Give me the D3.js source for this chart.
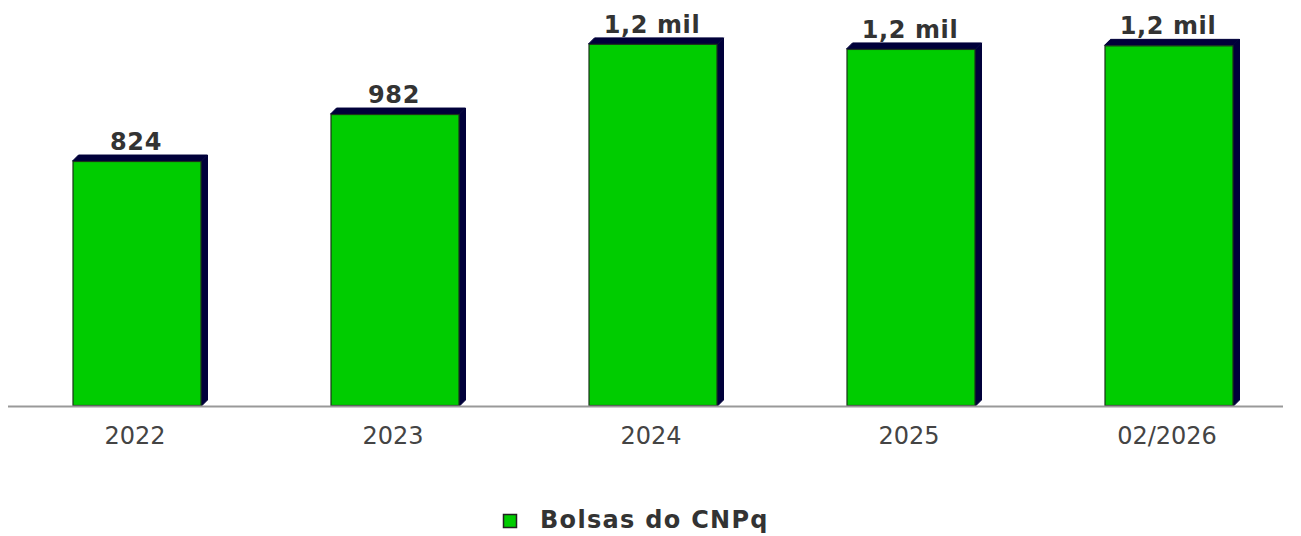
<!DOCTYPE html>
<html><head><meta charset="utf-8">
<script src="https://cdn.jsdelivr.net/npm/d3@7"></script>
<style>body{margin:0;background:#fff;}svg{display:block;}</style>
</head><body>
<svg id="c" width="1301" height="536"></svg>
<script>
const categories = ["2022", "2023", "2024", "2025", "02/2026"];
const values = [824, 982, 1218, 1201, 1213];
const valueLabels = ["824", "982", "1,2 mil", "1,2 mil", "1,2 mil"];
const seriesName = "Bolsas do CNPq";

const svg = d3.select("#c");
const baseY = 406, depth = 6;
const x = d3.scaleBand().domain(categories).range([8, 1298]).paddingInner(0.5).paddingOuter(0.25);
const y = d3.scaleLinear().domain([0, 1300]).range([baseY, 19.5]);

const g = svg.append("g");
const bars = g.selectAll("g.bar").data(categories).join("g").attr("class","bar");
bars.each(function(c, i){
  const s = d3.select(this);
  const x0 = x(c), w = x.bandwidth(), yt = y(values[i]);
  s.append("path")
    .attr("d", `M${x0+w},${yt} L${x0+w+depth},${yt-depth} L${x0+w+depth},${baseY-depth} L${x0+w},${baseY} Z`)
    .attr("fill", "#00003a").attr("stroke","#00003a").attr("stroke-width",1);
  s.append("path")
    .attr("d", `M${x0},${yt} L${x0+depth},${yt-depth} L${x0+w+depth},${yt-depth} L${x0+w},${yt} Z`)
    .attr("fill", "#00003a").attr("stroke","#00003a").attr("stroke-width",1);
  s.append("rect").attr("x", x0+0.5).attr("y", yt+0.5).attr("width", w-1).attr("height", baseY-yt-1)
    .attr("fill", "#00cc00").attr("stroke", "#1a331a").attr("stroke-width", 1.2);
  s.append("text").attr("x", x0 + w/2 - 1).attr("y", yt - depth - 5)
    .attr("text-anchor","middle").attr("font-family","DejaVu Sans").attr("font-weight","bold")
    .attr("font-size", 24).attr("letter-spacing", 0.6).attr("fill","#333").text(valueLabels[i]);
});

const axis = d3.axisBottom(x).tickSize(0).tickPadding(21);
const ax = svg.append("g").attr("transform", `translate(0,${baseY})`).call(axis);
ax.select(".domain").attr("stroke","#999").attr("stroke-width",2).attr("d","M8,0.5H1283");
ax.selectAll("text").attr("font-family","DejaVu Sans").attr("font-size",24).attr("fill","#444")
  .attr("dx", -2);

const lg = svg.append("g").attr("transform","translate(503,514)");
lg.append("rect").attr("x",0.5).attr("y",0.5).attr("width",13).attr("height",13)
  .attr("fill","#00cc00").attr("stroke","#222").attr("stroke-width",1.5);
lg.append("text").attr("x",37).attr("y",13.5).attr("font-family","DejaVu Sans").attr("font-weight","bold")
  .attr("font-size",24).attr("letter-spacing",1.3).attr("fill","#333").text(seriesName);
</script>
</body></html>
